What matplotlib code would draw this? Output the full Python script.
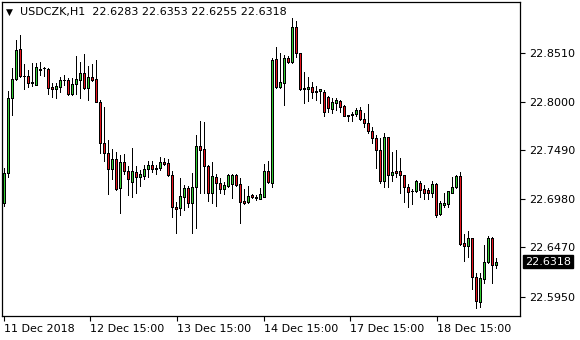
import matplotlib
matplotlib.use("Agg")
import matplotlib.pyplot as plt
import matplotlib.transforms as mtransforms
import numpy as np

symbol_title = "USDCZK,H1"
ohlc_title = "22.6283 22.6353 22.6255 22.6318"
last_price = 22.6318

opens = [22.6936, 22.7248, 22.8043, 22.8237, 22.8552, 22.8275, 22.8272, 22.8212, 22.8182, 22.8338,
         22.8359, 22.8345, 22.8151, 22.8133, 22.8151, 22.8233, 22.8230, 22.8080, 22.8185, 22.8230,
         22.8303, 22.8142, 22.8264, 22.8235, 22.8001, 22.7564, 22.7465, 22.7290, 22.7397, 22.7090,
         22.7365, 22.7275, 22.7160, 22.7259, 22.7212, 22.7220, 22.7290, 22.7332, 22.7307, 22.7307,
         22.7367, 22.7353, 22.7227, 22.6891, 22.6880, 22.7002, 22.7090, 22.6939, 22.7101, 22.7535,
         22.7501, 22.7325, 22.7038, 22.7206, 22.7143, 22.7080, 22.7115, 22.7136, 22.7227, 22.7133,
         22.6957, 22.6943, 22.7017, 22.6996, 22.6981, 22.7002, 22.7269, 22.7149, 22.8447, 22.8159,
         22.8201, 22.8458, 22.8422, 22.8784, 22.8517, 22.8142, 22.8132, 22.8153, 22.8117, 22.8111,
         22.8106, 22.8048, 22.7928, 22.7991, 22.8012, 22.7956, 22.7858, 22.7872, 22.7869, 22.7909,
         22.7823, 22.7774, 22.7690, 22.7616, 22.7493, 22.7164, 22.7627, 22.7225, 22.7270, 22.7270,
         22.7225, 22.7107, 22.7065, 22.7062, 22.7143, 22.7083, 22.7070, 22.7046, 22.7136, 22.6815,
         22.6912, 22.6923, 22.7044, 22.7101, 22.7220, 22.6518, 22.6487, 22.6565, 22.6154, 22.5898,
         22.6133, 22.6318, 22.6565, 22.6283]
highs = [22.7307, 22.8114, 22.8356, 22.8650, 22.8698, 22.8398, 22.8335, 22.8405, 22.8408, 22.8416,
         22.8369, 22.8359, 22.8195, 22.8198, 22.8256, 22.8282, 22.8254, 22.8247, 22.8487, 22.8422,
         22.8501, 22.8377, 22.8393, 22.8440, 22.8019, 22.7946, 22.7598, 22.7504, 22.7467, 22.7441,
         22.7456, 22.7322, 22.7511, 22.7325, 22.7283, 22.7336, 22.7381, 22.7378, 22.7336, 22.7417,
         22.7406, 22.7395, 22.7272, 22.6950, 22.7196, 22.7125, 22.7115, 22.7248, 22.7656, 22.7796,
         22.7791, 22.7336, 22.7370, 22.7241, 22.7196, 22.7160, 22.7241, 22.7241, 22.7241, 22.7196,
         22.7080, 22.7115, 22.7031, 22.7020, 22.7090, 22.7346, 22.7378, 22.8461, 22.8574, 22.8510,
         22.8493, 22.8482, 22.8879, 22.8853, 22.8517, 22.8317, 22.8264, 22.8212, 22.8166, 22.8135,
         22.8124, 22.8061, 22.8037, 22.8037, 22.8019, 22.7967, 22.7861, 22.7896, 22.7932, 22.7942,
         22.7886, 22.7977, 22.7738, 22.7646, 22.7616, 22.7669, 22.7627, 22.7475, 22.7493, 22.7406,
         22.7225, 22.7136, 22.7083, 22.7178, 22.7164, 22.7125, 22.7090, 22.7167, 22.7143, 22.6957,
         22.7038, 22.7064, 22.7212, 22.7230, 22.7265, 22.6607, 22.6641, 22.6565, 22.6203, 22.6196,
         22.6494, 22.6589, 22.6581, 22.6353]
lows = [22.6907, 22.7212, 22.7861, 22.8230, 22.8264, 22.8135, 22.8159, 22.8166, 22.8177, 22.8287,
        22.8272, 22.8077, 22.8054, 22.8045, 22.8106, 22.8174, 22.8072, 22.8072, 22.8079, 22.8040,
        22.8135, 22.8024, 22.8224, 22.7995, 22.7459, 22.7378, 22.7034, 22.7191, 22.7069, 22.6828,
        22.7241, 22.7015, 22.6996, 22.7044, 22.7115, 22.7185, 22.7206, 22.7259, 22.7241, 22.7283,
        22.7336, 22.7220, 22.6792, 22.6617, 22.6810, 22.6862, 22.6891, 22.6623, 22.6668, 22.7038,
        22.7044, 22.6960, 22.6939, 22.6904, 22.7044, 22.7031, 22.7101, 22.6985, 22.7115, 22.6722,
        22.6925, 22.6933, 22.6985, 22.6967, 22.6975, 22.6996, 22.7143, 22.7107, 22.8142, 22.8142,
        22.7967, 22.8412, 22.8405, 22.8475, 22.8124, 22.7984, 22.8012, 22.8037, 22.8019, 22.7984,
        22.7851, 22.7896, 22.7879, 22.7914, 22.7896, 22.7851, 22.7801, 22.7801, 22.7851, 22.7809,
        22.7738, 22.7669, 22.7570, 22.7309, 22.7146, 22.7101, 22.7101, 22.7170, 22.7204, 22.7044,
        22.6950, 22.6897, 22.6929, 22.7055, 22.7002, 22.6975, 22.6980, 22.6994, 22.6792, 22.6810,
        22.6897, 22.6892, 22.7038, 22.7090, 22.6494, 22.6329, 22.6371, 22.6028, 22.5828, 22.5839,
        22.6098, 22.6302, 22.6091, 22.6255]
closes = [22.7248, 22.8043, 22.8237, 22.8545, 22.8275, 22.8268, 22.8201, 22.8195, 22.8363, 22.8348,
          22.8353, 22.8142, 22.8132, 22.8166, 22.8230, 22.8226, 22.8079, 22.8185, 22.8237, 22.8303,
          22.8142, 22.8261, 22.8233, 22.8001, 22.7564, 22.7459, 22.7290, 22.7397, 22.7085, 22.7370,
          22.7269, 22.7186, 22.7272, 22.7212, 22.7241, 22.7293, 22.7336, 22.7293, 22.7290, 22.7367,
          22.7343, 22.7227, 22.6891, 22.6870, 22.7013, 22.7090, 22.6939, 22.7101, 22.7535, 22.7493,
          22.7325, 22.7038, 22.7220, 22.7143, 22.7083, 22.7122, 22.7227, 22.7227, 22.7125, 22.6950,
          22.6939, 22.7013, 22.6996, 22.6985, 22.7027, 22.7269, 22.7160, 22.8440, 22.8159, 22.8212,
          22.8458, 22.8422, 22.8784, 22.8517, 22.8138, 22.8135, 22.8153, 22.8100, 22.8100, 22.8132,
          22.7890, 22.7932, 22.7995, 22.8019, 22.7942, 22.7854, 22.7851, 22.7865, 22.7909, 22.7823,
          22.7774, 22.7690, 22.7616, 22.7490, 22.7170, 22.7627, 22.7225, 22.7259, 22.7255, 22.7225,
          22.7109, 22.7055, 22.7059, 22.7167, 22.7069, 22.7046, 22.7044, 22.7133, 22.6810, 22.6933,
          22.6933, 22.7059, 22.7101, 22.7220, 22.6505, 22.6487, 22.6565, 22.6154, 22.5908, 22.6144,
          22.6318, 22.6565, 22.6284, 22.6318]

ytick_vals = [22.8510, 22.8000, 22.7490, 22.6980, 22.6470, 22.5950]
xtick_bars = [0, 21.67, 43.33, 65, 86.67, 108.33]
xtick_labels = ["11 Dec 2018", "12 Dec 15:00", "13 Dec 15:00", "14 Dec 15:00",
                "17 Dec 15:00", "18 Dec 15:00"]

bull_color = "#32CD32"
bear_color = "#E8141E"

W, H = 580, 340
AX_L, AX_R, AX_T, AX_B = 2, 520, 2, 316
YMIN, YMAX = 22.5747, 22.9050
fig = plt.figure(figsize=(W / 100, H / 100), dpi=100)
fig.patch.set_facecolor("white")
ax = fig.add_axes([AX_L / W, 1 - AX_B / H, (AX_R - AX_L) / W, (AX_B - AX_T) / H])

o = np.array(opens); h = np.array(highs); l = np.array(lows); c = np.array(closes)
idx = np.arange(len(o))
up = c >= o
lo = np.minimum(o, c); hi = np.maximum(o, c)
cols = np.where(up, bull_color, bear_color)
LW = 0.72  # one pixel
half = 0.25  # one pixel in bar units (4 px per bar)

kw = dict(linewidth=LW, antialiased=False)
# wicks
ax.vlines(idx, l, h, colors="black", zorder=2, **kw)
# body: coloured centre column, black side columns, black top/bottom
ax.vlines(idx, lo, hi, colors=cols, zorder=3, **kw)
ax.vlines(idx - half, lo, hi, colors="black", zorder=4, **kw)
ax.vlines(idx + half, lo, hi, colors="black", zorder=4, **kw)
ax.hlines(hi, idx - half, idx + half, colors="black", zorder=5, **kw)
ax.hlines(lo, idx - half, idx + half, colors="black", zorder=5, **kw)

ax.set_xlim(-0.375, (AX_R - AX_L) / 4 - 0.375)
ax.set_ylim(YMIN, YMAX)

ax.yaxis.tick_right()
ax.set_yticks(ytick_vals)
ax.set_yticklabels([f"{v:.4f}" for v in ytick_vals])
ax.set_xticks(xtick_bars)
ax.set_xticklabels(xtick_labels, ha="left")
ax.tick_params(axis="both", direction="out", length=3.5, width=0.8,
               labelsize=8, color="black", labelcolor="black")
ax.tick_params(axis="y", pad=3)
ax.tick_params(axis="x", pad=2)
for s in ax.spines.values():
    s.set_linewidth(0.9)
    s.set_color("black")

trans = mtransforms.blended_transform_factory(ax.transAxes, ax.transData)
ax.text(1.0 + 5 / 518, last_price, f"{last_price:.4f}", transform=trans,
        fontsize=8, color="white", va="center", ha="left",
        bbox=dict(boxstyle="square,pad=0.15", facecolor="black", edgecolor="black"))

fig.text(6 / W, 1 - 12 / H, "\u25BC", fontsize=6.5, color="black", va="center", ha="left")
fig.text(20 / W, 1 - 12 / H, symbol_title + "  " + ohlc_title, fontsize=8,
         color="black", va="center", ha="left")

fig.savefig("out.png", dpi=100, facecolor="white")
